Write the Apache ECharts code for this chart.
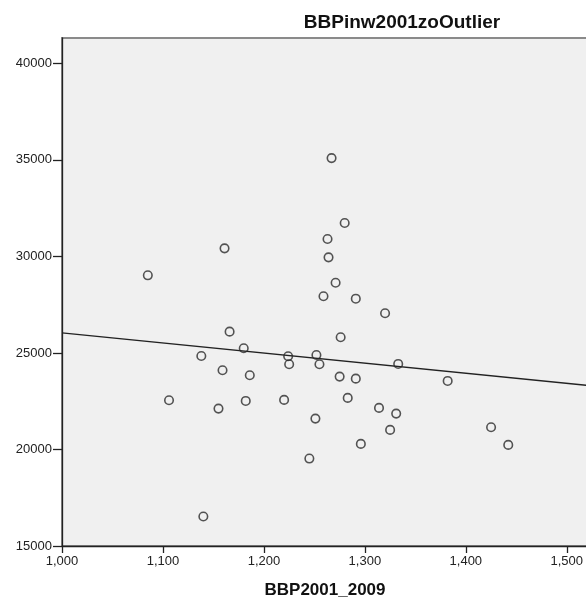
<!DOCTYPE html>
<html>
<head>
    <meta charset="utf-8"/>
    <title>BBPinw2001zoOutlier</title>
    <style>
        html, body {
            margin: 0;
            padding: 0;
            background: #fff;
        }
        #main {
            width: 586px;
            height: 600px;
        }
    </style>
</head>
<body>

<div id="main"></div>

<script src="https://cdn.jsdelivr.net/npm/echarts@6/dist/echarts.min.js"></script>
<script>
    // data
    var bbp2001 = [1161, 1085, 1166, 1267, 1280, 1263, 1264, 1271, 1259, 1291,
        1320, 1276, 1180, 1138, 1224, 1252, 1225, 1255, 1159, 1186,
        1106, 1155, 1182, 1220, 1251, 1245, 1140, 1333, 1382, 1275,
        1291, 1283, 1314, 1331, 1325, 1296, 1425, 1442];
    var inw2001 = [30419, 29022, 26103, 35093, 31729, 30901, 29953, 28639, 27935, 27811,
        27055, 25813, 25243, 24845, 24829, 24896, 24415, 24415, 24104, 23846,
        22552, 22117, 22515, 22567, 21600, 19529, 16527, 24431, 23551, 23774,
        23670, 22671, 22153, 21858, 21014, 20290, 21154, 20238];

    // fit line end points
    var fitX = [1000, 1521];
    var fitY = [26035, 23318];

    var xTicks = [1000, 1100, 1200, 1300, 1400, 1500];
    var yTicks = [15000, 20000, 25000, 30000, 35000, 40000];

    var points = [];
    for (var i = 0; i < bbp2001.length; i++) {
        points.push([bbp2001[i], inw2001[i]]);
    }
    var fitLine = [];
    for (var j = 0; j < fitX.length; j++) {
        fitLine.push([fitX[j], fitY[j]]);
    }

    var font = '"Liberation Sans", Arial, sans-serif';

    var myChart = echarts.init(document.getElementById('main'));
    var option = {
        backgroundColor: '#fff',
        animation: false,
        title: {
            text: 'BBPinw2001zoOutlier',
            left: 397,
            top: 8,
            textAlign: 'center',
            textStyle: {
                fontFamily: font,
                fontSize: 19,
                fontWeight: 'bold',
                color: '#111'
            }
        },
        grid: {
            left: 62,
            right: -2,
            top: 38,
            bottom: 54,
            outerBoundsMode: 'none',
            show: true,
            backgroundColor: '#F0F0F0',
            borderColor: '#8a8a8a',
            borderWidth: 2
        },
        xAxis: {
            type: 'value',
            min: 1000,
            max: 1521,
            name: 'BBP2001_2009',
            nameLocation: 'middle',
            nameGap: 36,
            nameTextStyle: {
                fontFamily: font,
                fontSize: 17,
                fontWeight: 'bold',
                color: '#111'
            },
            splitLine: {show: false},
            axisLine: {onZero: false, lineStyle: {color: '#222', width: 1.3}},
            axisTick: {
                length: 7,
                customValues: xTicks,
                lineStyle: {color: '#222', width: 1.3}
            },
            axisLabel: {
                customValues: xTicks,
                margin: 9,
                fontFamily: font,
                fontSize: 13,
                color: '#222',
                formatter: function (v) {
                    return v.toLocaleString('en-US');
                }
            }
        },
        yAxis: {
            type: 'value',
            min: 15000,
            max: 41315,
            splitLine: {show: false},
            axisLine: {onZero: false, lineStyle: {color: '#222', width: 1.3}},
            axisTick: {
                length: 9,
                customValues: yTicks,
                lineStyle: {color: '#222', width: 1.3}
            },
            axisLabel: {
                customValues: yTicks,
                margin: 10,
                fontFamily: font,
                fontSize: 13,
                color: '#222',
                formatter: function (v) {
                    return String(v);
                }
            }
        },
        series: [
            {
                type: 'line',
                data: fitLine,
                symbol: 'none',
                silent: true,
                lineStyle: {color: '#222', width: 1.3},
                z: 2
            },
            {
                type: 'scatter',
                data: points,
                symbol: 'circle',
                symbolSize: 8.5,
                itemStyle: {
                    color: 'transparent',
                    borderColor: '#2a2a2a',
                    borderWidth: 1.6
                },
                z: 3
            }
        ]
    };
    myChart.setOption(option);

    window.onresize = function () {
        myChart.resize();
    };
</script>
</body>
</html>
